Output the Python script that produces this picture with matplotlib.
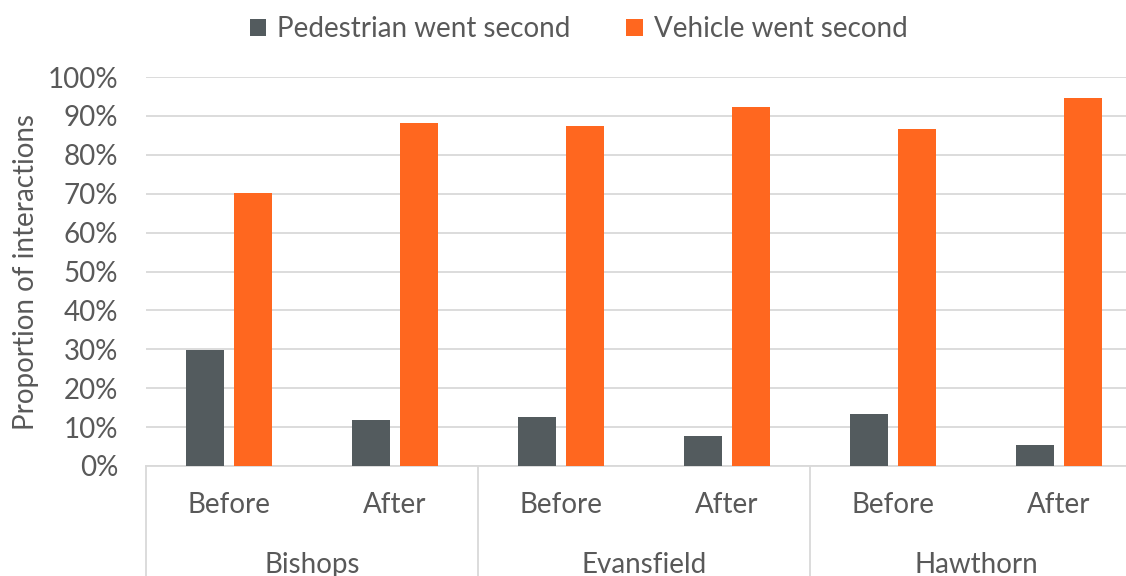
import numpy as np
import matplotlib
matplotlib.use("Agg")
import matplotlib.pyplot as plt
from matplotlib.ticker import PercentFormatter

# data
sites = ["Bishops", "Evansfield", "Hawthorn"]
phases = ["Before", "After"]
ped_second = [0.298, 0.118, 0.125, 0.078, 0.133, 0.054]
veh_second = [0.702, 0.882, 0.875, 0.922, 0.867, 0.946]
series_names = ["Pedestrian went second", "Vehicle went second"]

GREY = "#535B5E"
ORANGE = "#FF671F"
TXT = "#595959"
GRID = "#D9D9D9"
FS = 20

plt.rcParams["font.family"] = ["Lato", "DejaVu Sans"]

fig = plt.figure(figsize=(11.26, 5.76), dpi=100)
ax = fig.add_axes([146 / 1126, 1 - 466 / 576, 996 / 1126, (466 - 77) / 576])

x = np.arange(len(ped_second))
w = 0.229
off = 0.145
ax.bar(x - off, ped_second, w, color=GREY, label=series_names[0], zorder=3)
ax.bar(x + off, veh_second, w, color=ORANGE, label=series_names[1], zorder=3)

ax.set_xlim(-0.5, len(x) - 0.5)
ax.set_ylim(0, 1)
ax.set_yticks(np.arange(0, 1.01, 0.1))
ax.yaxis.set_major_formatter(PercentFormatter(1.0, decimals=0))
ax.grid(True, axis="y", color=GRID, linewidth=1.3, zorder=0)
ax.tick_params(axis="y", length=0, labelsize=FS, labelcolor=TXT, pad=20)
ax.tick_params(axis="x", length=0, labelsize=FS, labelcolor=TXT, pad=19)
ax.set_xticks(x)
ax.set_xticklabels(phases * len(sites))
for s in ["top", "right", "left"]:
    ax.spines[s].set_visible(False)
ax.spines["bottom"].set_color(GRID)
ax.spines["bottom"].set_linewidth(1.3)

ax.set_ylabel("Proportion of interactions", fontsize=FS, color=TXT, labelpad=6)

# group labels and divider lines under the category axis
trans = ax.get_xaxis_transform()
for i, site in enumerate(sites):
    ax.text(2 * i + 0.5, -0.255, site, transform=trans, ha="center", va="center",
            fontsize=FS, color=TXT, clip_on=False)
for b in np.arange(-0.5, len(x), 2):
    ax.plot([b, b], [0, -0.32], transform=trans, color=GRID, linewidth=1.3, clip_on=False)

fig.legend(loc="upper center", bbox_to_anchor=(0.514, 1.015), ncol=2, frameon=False,
           fontsize=FS, labelcolor=TXT, handlelength=0.6, handleheight=0.6,
           handletextpad=0.4, columnspacing=2.0)

fig.savefig("out.png", dpi=100)
